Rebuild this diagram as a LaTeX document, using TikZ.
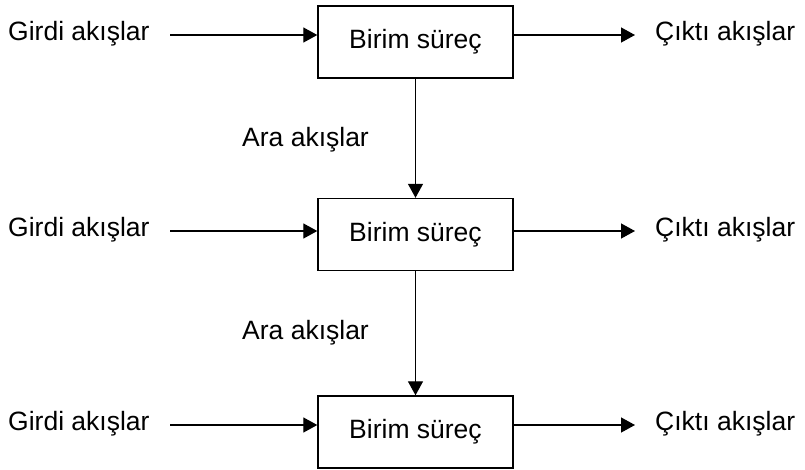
\documentclass[tikz,border=0pt]{standalone}
\usepackage{fontspec}
\setmainfont{Liberation Sans}
\usetikzlibrary{arrows.meta}
\begin{document}
\begin{tikzpicture}[x=1pt,y=-1pt,
  unitbox/.style={draw, line width=1.4pt, minimum width=195pt, minimum height=72pt, inner sep=0pt, font=\fontsize{26.5}{30}\selectfont},
  lbl/.style={inner sep=0pt, font=\fontsize{26.5}{30}\selectfont},
  flow/.style={line width=1.3pt, -{Triangle[length=14pt, width=15pt]}}]
\useasboundingbox (0,0) rectangle (805,469);

% process boxes
\node[unitbox] (b1) at (415.5,42) {Birim süreç};
\node[unitbox] (b2) at (415.5,234.5) {Birim süreç};
\node[unitbox] (b3) at (415.5,432) {Birim süreç};

% input labels and arrow starts
\node[lbl, anchor=base west] (in1) at (8,40) {Girdi akışlar};
\node[lbl, anchor=base west] (in2) at (8,236) {Girdi akışlar};
\node[lbl, anchor=base west] (in3) at (8,430) {Girdi akışlar};
\coordinate (s1) at (170,35);
\coordinate (s2) at (170,231);
\coordinate (s3) at (170,425);

% output labels and arrow ends
\node[lbl, anchor=base west] (out1) at (655,40) {Çıktı akışlar};
\node[lbl, anchor=base west] (out2) at (655,236) {Çıktı akışlar};
\node[lbl, anchor=base west] (out3) at (655,430) {Çıktı akışlar};
\coordinate (e1) at (635,35);
\coordinate (e2) at (635,231);
\coordinate (e3) at (635,425);

% intermediate flow labels
\node[lbl, anchor=base west] (ara1) at (242,146) {Ara akışlar};
\node[lbl, anchor=base west] (ara2) at (242,339) {Ara akışlar};

% input flows
\draw[flow] (s1) -- (s1 -| b1.west);
\draw[flow] (s2) -- (s2 -| b2.west);
\draw[flow] (s3) -- (s3 -| b3.west);

% output flows
\draw[flow] (e1 -| b1.east) -- (e1);
\draw[flow] (e2 -| b2.east) -- (e2);
\draw[flow] (e3 -| b3.east) -- (e3);

% intermediate flows
\draw[flow] (b1.south) -- (b2.north);
\draw[flow] (b2.south) -- (b3.north);
\end{tikzpicture}
\end{document}
